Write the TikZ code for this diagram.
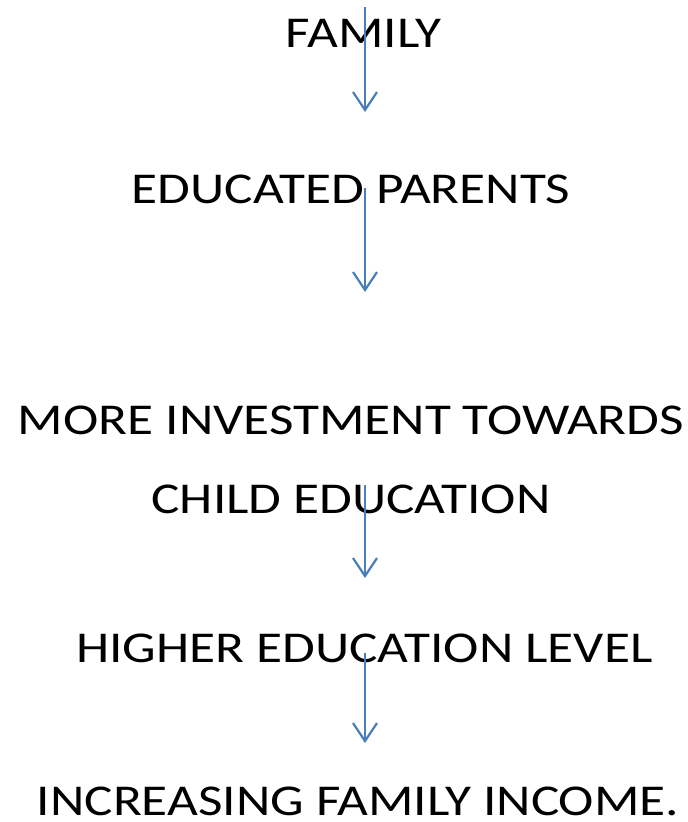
\documentclass[tikz,border=0pt]{standalone}
\usepackage{fontspec}
\setmainfont{Carlito}
\usetikzlibrary{arrows.meta,positioning}
\definecolor{arrowblue}{HTML}{4A7EBB}

\begin{document}
\begin{tikzpicture}[
    x={(1pt,0)}, y={(0,-1pt)},
    label/.style={inner sep=0pt, anchor=base, align=center, xscale=1.21, transform shape, font=\fontsize{44}{79}\selectfont},
    arrow/.style={draw=arrowblue, line width=2.2pt, -{Straight Barb[length=18pt,width=24pt]}}
]
\useasboundingbox (0,0) rectangle (688,822);

\node[label] (family) at (363.5,47) {FAMILY};
\node[label] (parents) at (351,203) {EDUCATED PARENTS};
\node[label] (invest) at (351,513) {MORE INVESTMENT TOWARDS\\CHILD EDUCATION};
\node[label] (higher) at (364.5,662) {HIGHER EDUCATION LEVEL};
\node[label] (income) at (358,815) {INCREASING FAMILY INCOME.};

% arrows start over the text and end in free space
\coordinate (a1top) at (365,7);
\coordinate (a1tip) at (365,112);
\coordinate (a2top) at (365,188);
\coordinate (a2tip) at (365,292);
\coordinate (a3top) at (365,485);
\coordinate (a3tip) at (365,578);
\coordinate (a4top) at (365,653);
\coordinate (a4tip) at (365,743);

\draw[arrow] (a1top) -- (a1tip);
\draw[arrow] (a2top) -- (a2tip);
\draw[arrow] (a3top) -- (a3tip);
\draw[arrow] (a4top) -- (a4tip);

\end{tikzpicture}
\end{document}
